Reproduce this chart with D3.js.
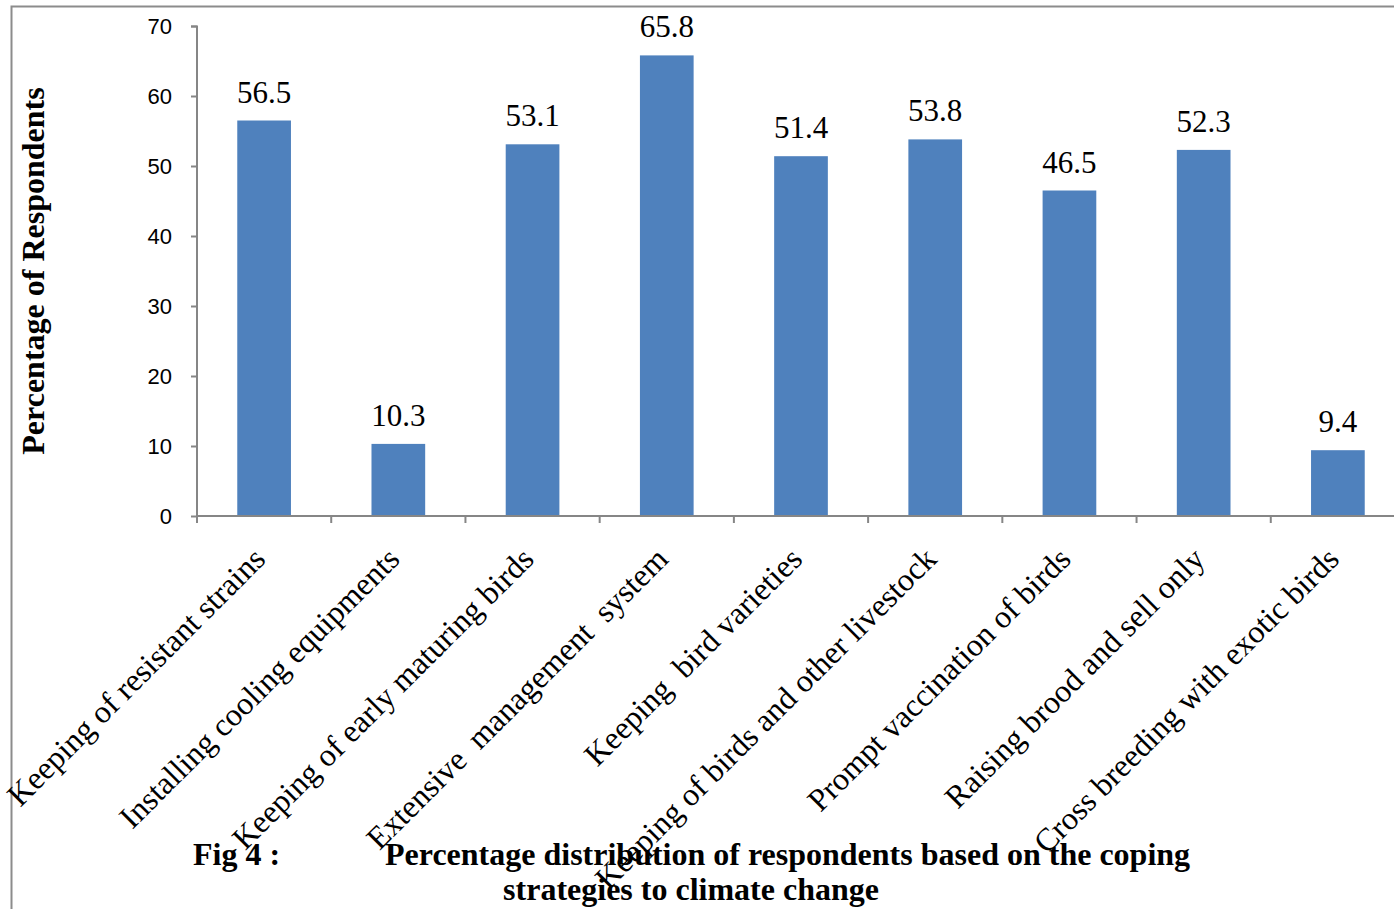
<!DOCTYPE html>
<html><head><meta charset="utf-8">
<script src="https://cdn.jsdelivr.net/npm/d3@7"></script>
<style>
html,body{margin:0;padding:0;background:#fff;overflow:hidden}
svg{display:block}
.cat{white-space:pre}
</style></head>
<body>
<script>
const categories = [
  "Keeping of resistant strains",
  "Installing cooling equipments",
  "Keeping of early maturing birds",
  "Extensive  management  system",
  "Keeping  bird varieties",
  "Keeping of birds and other livestock",
  "Prompt vaccination of birds",
  "Raising brood and sell only",
  "Cross breeding with exotic birds"
];
const values = [56.5, 10.3, 53.1, 65.8, 51.4, 53.8, 46.5, 52.3, 9.4];
const yTicks = [0, 10, 20, 30, 40, 50, 60, 70];
const yTitle = "Percentage of Respondents";
const captionPrefix = "Fig 4 :";
const captionLine1 = "Percentage distribution of respondents based on the coping";
const captionLine2 = "strategies to climate change";

const W = 1394, H = 909;
const svg = d3.select("body").append("svg").attr("width", W).attr("height", H);

// outer frame
svg.append("rect").attr("x", 11.5).attr("y", 6.5).attr("width", W + 20).attr("height", H + 20)
  .attr("fill", "none").attr("stroke", "#8c8c8c").attr("stroke-width", 2);

const x = d3.scaleBand().domain(categories).range([197, 1405]).paddingInner(0.6).paddingOuter(0.3);
const y = d3.scaleLinear().domain([0, 70]).range([516, 26]);
const axisColor = "#868686";
const serif = "'Liberation Serif', 'Times New Roman', serif";

// y axis
const ya = svg.append("g").attr("transform", "translate(197,0)")
  .call(d3.axisLeft(y).tickValues(yTicks).tickSize(6).tickPadding(19));
ya.select(".domain").attr("stroke", axisColor).attr("stroke-width", 2).attr("d", "M-6,26.5H0V516");
ya.selectAll(".tick line").attr("stroke", axisColor).attr("stroke-width", 2);
ya.selectAll(".tick text").attr("font-family", "'Liberation Sans', Arial, sans-serif")
  .attr("font-size", 22).attr("fill", "#000");

// bars
svg.selectAll("rect.bar").data(values).join("rect").attr("class", "bar")
  .attr("x", (d, i) => x(categories[i]))
  .attr("width", x.bandwidth())
  .attr("y", d => y(d))
  .attr("height", d => y(0) - y(d))
  .attr("fill", "#4F81BD");

// value labels
svg.selectAll("text.val").data(values).join("text").attr("class", "val")
  .attr("x", (d, i) => x(categories[i]) + x.bandwidth() / 2)
  .attr("y", d => y(d) - 18)
  .attr("text-anchor", "middle")
  .attr("font-family", serif)
  .attr("font-size", 31).attr("fill", "#000")
  .text(d => d.toFixed(1));

// x axis
const step = x.step();
const xa = svg.append("g");
xa.append("line").attr("x1", 197).attr("x2", 1405).attr("y1", 516).attr("y2", 516)
  .attr("stroke", axisColor).attr("stroke-width", 2);
const edges = d3.range(categories.length + 1).map(i => 197 + i * step);
xa.selectAll("line.tk").data(edges).join("line").attr("class", "tk")
  .attr("x1", d => d).attr("x2", d => d).attr("y1", 516).attr("y2", 523)
  .attr("stroke", axisColor).attr("stroke-width", 2);

// category labels
svg.selectAll("text.cat").data(categories).join("text").attr("class", "cat")
  .attr("transform", d => `translate(${x(d) + x.bandwidth() / 2 + 3},${561}) rotate(-45)`)
  .attr("text-anchor", "end")
  .attr("font-family", serif)
  .attr("font-size", 32).attr("fill", "#000")
  .text(d => d);

// y title
svg.append("text")
  .attr("transform", "translate(44,271) rotate(-90)")
  .attr("text-anchor", "middle")
  .attr("font-family", serif)
  .attr("font-weight", "bold").attr("font-size", 32).attr("fill", "#000")
  .text(yTitle);

// caption
svg.append("text").attr("x", 193).attr("y", 865)
  .attr("font-family", serif).attr("font-weight", "bold").attr("font-size", 32).text(captionPrefix);
svg.append("text").attr("x", 385).attr("y", 865)
  .attr("font-family", serif).attr("font-weight", "bold").attr("font-size", 32).text(captionLine1);
svg.append("text").attr("x", 691).attr("y", 900).attr("text-anchor", "middle")
  .attr("font-family", serif).attr("font-weight", "bold").attr("font-size", 32).text(captionLine2);
</script>
</body></html>
